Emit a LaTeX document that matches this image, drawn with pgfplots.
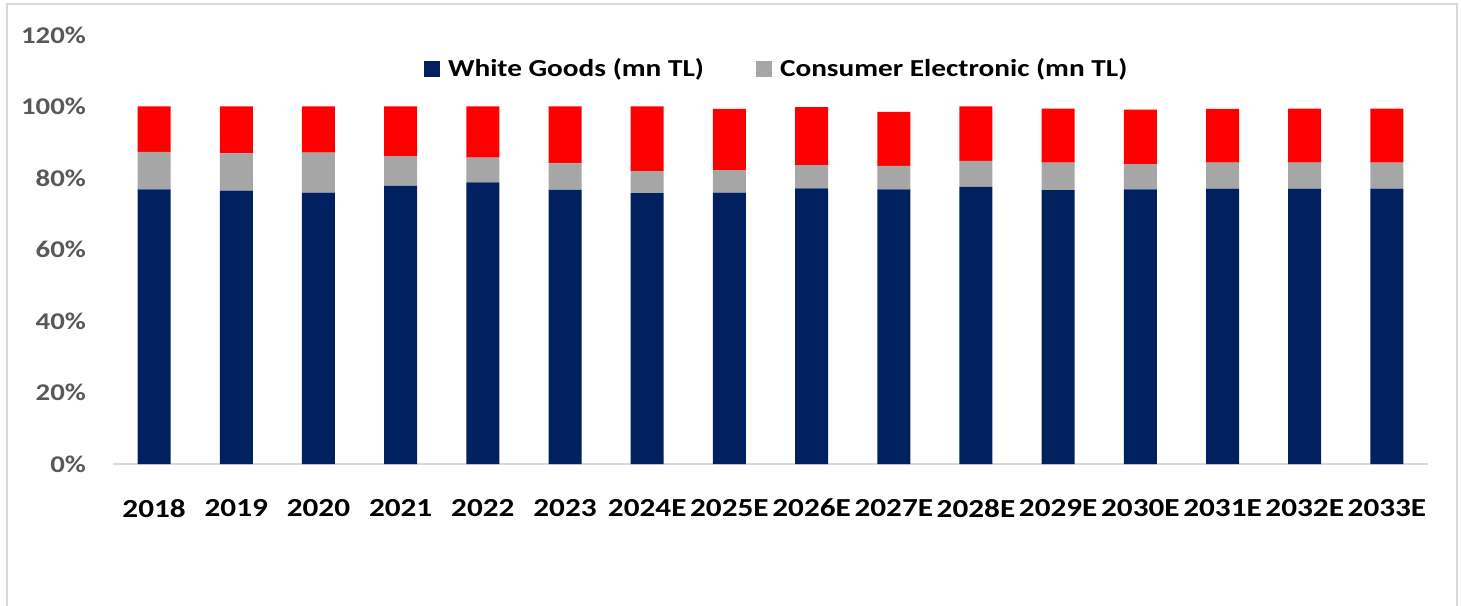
\documentclass[border=0pt]{standalone}
\usepackage{pgfplots}
\pgfplotsset{compat=1.18}
\usepackage{pgfplotstable}
\usepackage{fontspec}
\setmainfont{Carlito}[FakeStretch=1.2]
\definecolor{navy}{HTML}{002060}
\definecolor{cegray}{HTML}{A6A6A6}
\definecolor{othred}{HTML}{FF0000}
\definecolor{tickgray}{HTML}{595959}
\definecolor{framegray}{HTML}{D9D9D9}
\pgfplotstableread{
x wg ce oth
0 76.8 10.5 12.7
1 76.5 10.4 13.1
2 75.9 11.2 12.9
3 77.8 8.3 13.9
4 78.8 6.9 14.3
5 76.7 7.4 15.9
6 75.8 6.1 18.1
7 75.9 6.3 17.1
8 77.1 6.5 16.2
9 76.8 6.6 15.1
10 77.5 7.3 15.2
11 76.6 7.7 15.1
12 76.8 7.1 15.2
13 77.0 7.3 15.0
14 77.0 7.3 15.1
15 77.0 7.3 15.1
}\data
\begin{document}
\begin{tikzpicture}[x=1pt,y=1pt]
\path[use as bounding box] (0,0) rectangle (730.5,302.5);
\draw[color=framegray, line width=1pt] (3.5,-2) -- (3.5,300.25) -- (728.5,300.25) -- (728.5,-2);
\begin{axis}[at={(56.5pt,70.5pt)}, anchor=south west, scale only axis,
  width=657.5pt, height=214.5pt,
  ybar stacked, bar width=16.5pt,
  xmin=-0.5, xmax=15.5, ymin=0, ymax=120,
  xtick={0,...,15},
  xticklabels={2018,2019,2020,2021,2022,2023,2024E,2025E,2026E,2027E,2028E,2029E,2030E,2031E,2032E,2033E},
  ytick={0,20,...,120},
  yticklabels={0\%,20\%,40\%,60\%,80\%,100\%,120\%},
  axis lines*=left,
  x axis line style={draw=framegray, line width=1pt},
  y axis line style={draw=none},
  major tick length=0pt, tick style={draw=none},
  xticklabel style={font=\bfseries\fontsize{13}{15}\selectfont, text=black, yshift=-14pt},
  yticklabel style={font=\bfseries\fontsize{12}{14}\selectfont, text=tickgray, xshift=-10pt},
  legend style={at={(0.507,0.921)}, anchor=center, draw=none, fill=none,
    legend columns=2, font=\bfseries\fontsize{12.2}{15}\selectfont,
    /tikz/every even column/.append style={column sep=22pt},
    nodes={inner xsep=4pt},
    legend cell align=left},
  legend image code/.code={\fill[#1] (0pt,-4pt) rectangle (8pt,4pt);},
]
\addplot[fill=navy, draw=none] table[x=x, y=wg] {\data};
\addlegendentry{White Goods (mn TL)}
\addplot[fill=cegray, draw=none] table[x=x, y=ce] {\data};
\addlegendentry{Consumer Electronic (mn TL)}
\addplot[fill=othred, draw=none, forget plot] table[x=x, y=oth] {\data};
\end{axis}
\end{tikzpicture}
\end{document}
